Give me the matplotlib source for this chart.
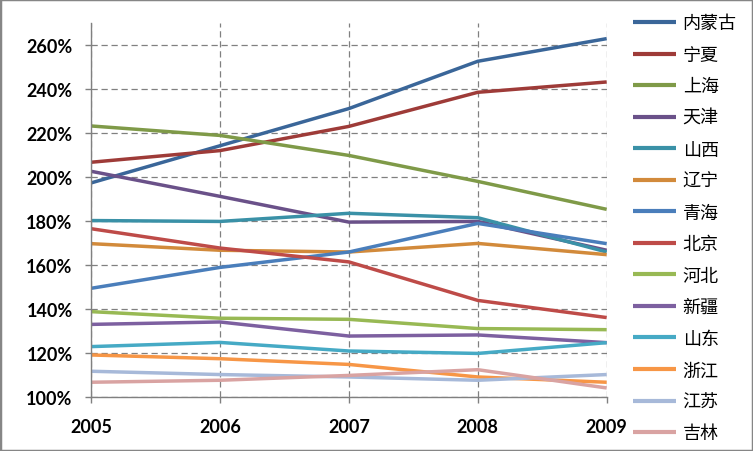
import matplotlib
matplotlib.use("Agg")
import matplotlib.pyplot as plt
from matplotlib.patches import Rectangle
from matplotlib.ticker import FuncFormatter

plt.rcParams['font.family'] = ['Noto Sans CJK SC', 'DejaVu Sans']

# data (ratio, 1.0 = 100%)
years = [2005, 2006, 2007, 2008, 2009]
provinces = ['内蒙古', '宁夏', '上海', '天津', '山西', '辽宁', '青海',
             '北京', '河北', '新疆', '山东', '浙江', '江苏', '吉林']

neimenggu = [1.973, 2.142, 2.311, 2.526, 2.629]
ningxia = [2.067, 2.120, 2.230, 2.385, 2.432]
shanghai = [2.232, 2.189, 2.098, 1.980, 1.853]
tianjin = [2.026, 1.912, 1.795, 1.798, 1.667]
shanxi = [1.802, 1.798, 1.835, 1.815, 1.659]
liaoning = [1.697, 1.667, 1.659, 1.698, 1.647]
qinghai = [1.494, 1.589, 1.659, 1.789, 1.697]
beijing = [1.765, 1.677, 1.614, 1.439, 1.361]
hebei = [1.388, 1.358, 1.353, 1.311, 1.306]
xinjiang = [1.330, 1.341, 1.277, 1.282, 1.247]
shandong = [1.229, 1.248, 1.209, 1.198, 1.247]
zhejiang = [1.191, 1.174, 1.148, 1.091, 1.067]
jiangsu = [1.117, 1.102, 1.091, 1.076, 1.102]
jilin = [1.067, 1.076, 1.098, 1.124, 1.041]

series = [neimenggu, ningxia, shanghai, tianjin, shanxi, liaoning, qinghai,
          beijing, hebei, xinjiang, shandong, zhejiang, jiangsu, jilin]
colors = ['#3A6699', '#9E3B38', '#7F9A48', '#6A5189', '#3A91A7', '#D28A3B',
          '#4A7EBB', '#BE4B48', '#98B954', '#7D60A0', '#46AAC5', '#F79646',
          '#A7B9D9', '#D9A3A2']

fig = plt.figure(figsize=(7.53, 4.52), dpi=100)
ax = fig.add_axes([0.1209, 0.1195, 0.6848, 0.8274])

for vals, name, c in zip(series, provinces, colors):
    ax.plot(years, vals, color=c, lw=2.5, label=name, solid_capstyle='butt')

ax.set_xlim(2005, 2009)
ax.set_ylim(1.0, 2.7)
ax.set_xticks(years)
ax.set_yticks([1.0, 1.2, 1.4, 1.6, 1.8, 2.0, 2.2, 2.4, 2.6])
ax.yaxis.set_major_formatter(FuncFormatter(lambda v, p: f'{v * 100:.0f}%'))

ax.grid(True, color='#808080', linestyle=(0, (5, 3)), linewidth=0.9)
ax.set_axisbelow(True)
for side in ['top', 'right']:
    ax.spines[side].set_visible(False)
for side in ['left', 'bottom']:
    ax.spines[side].set_color('#808080')
    ax.spines[side].set_linewidth(1.0)

ax.tick_params(axis='both', color='#808080', length=4.3, width=1.0)
ax.tick_params(axis='x', pad=11)
ax.tick_params(axis='y', pad=9)
for lab in ax.get_xticklabels() + ax.get_yticklabels():
    lab.set_fontfamily('Lato')
    lab.set_fontweight('bold')
    lab.set_fontsize(13)

leg = ax.legend(loc='upper left', bbox_to_anchor=(0.8406, 0.966),
                bbox_transform=fig.transFigure, frameon=False, fontsize=13,
                handlelength=2.4, handletextpad=0.35, labelspacing=0.75,
                borderaxespad=0.0, borderpad=0.0)
for line in leg.get_lines():
    line.set_linewidth(3.0)

# gray frame round the whole chart
fig.patches.append(Rectangle((0, 0), 1, 1, transform=fig.transFigure,
                             fill=False, edgecolor='#868686', linewidth=2.5))

fig.savefig('out.png', dpi=100)
